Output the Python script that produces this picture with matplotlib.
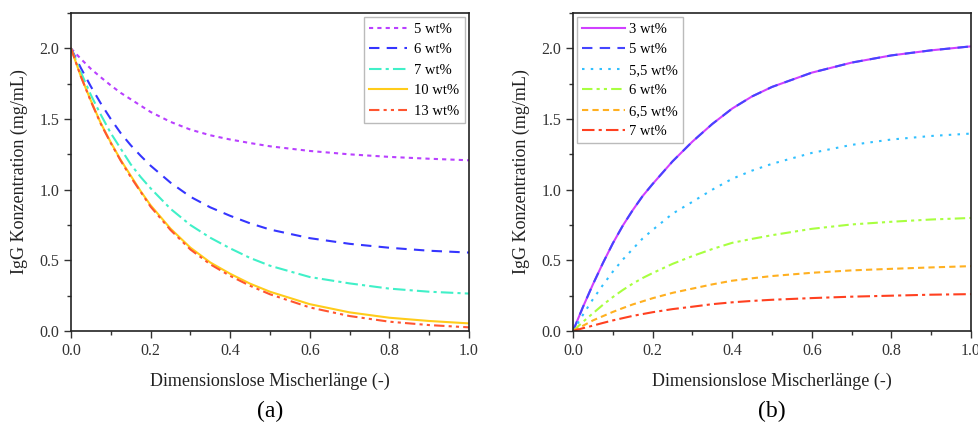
import matplotlib
matplotlib.use("Agg")
import matplotlib.pyplot as plt
from matplotlib.ticker import MultipleLocator

plt.rcParams['font.family'] = ['Liberation Serif', 'DejaVu Serif']

# dimensionless mixer length
x = [0, 0.025, 0.05, 0.075, 0.1, 0.125, 0.15, 0.175, 0.2, 0.25, 0.3, 0.35,
     0.4, 0.45, 0.5, 0.6, 0.7, 0.8, 0.9, 1.0]

# panel (a): IgG concentration, decreasing
labels_a = ['5 wt%', '6 wt%', '7 wt%', '10 wt%', '13 wt%']
a_5 = [2.0, 1.925, 1.855, 1.795, 1.738, 1.685, 1.64, 1.595, 1.55, 1.48, 1.425, 1.385,
       1.355, 1.33, 1.307, 1.274, 1.25, 1.232, 1.219, 1.208]
a_6 = [2.0, 1.86, 1.73, 1.61, 1.50, 1.40, 1.315, 1.24, 1.17, 1.05, 0.95, 0.875,
       0.815, 0.762, 0.718, 0.657, 0.617, 0.589, 0.568, 0.555]
a_7 = [2.0, 1.83, 1.67, 1.53, 1.40, 1.29, 1.18, 1.09, 1.01, 0.865, 0.75, 0.66,
       0.585, 0.517, 0.462, 0.382, 0.337, 0.30, 0.278, 0.265]
a_10 = [2.0, 1.80, 1.63, 1.47, 1.335, 1.21, 1.10, 0.99, 0.89, 0.725, 0.59, 0.485,
        0.405, 0.335, 0.278, 0.19, 0.132, 0.094, 0.071, 0.054]
a_13 = [2.0, 1.80, 1.625, 1.465, 1.33, 1.205, 1.09, 0.985, 0.88, 0.715, 0.577, 0.472,
        0.39, 0.32, 0.26, 0.167, 0.106, 0.066, 0.042, 0.026]

# panel (b): IgG concentration, increasing
labels_b = ['3 wt%', '5 wt%', '5,5 wt%', '6 wt%', '6,5 wt%', '7 wt%']
b_3 = [0, 0.17, 0.33, 0.48, 0.62, 0.745, 0.855, 0.955, 1.04, 1.20, 1.34, 1.465,
       1.574, 1.66, 1.727, 1.828, 1.899, 1.95, 1.986, 2.014]
b_5 = [0, 0.17, 0.33, 0.48, 0.62, 0.745, 0.855, 0.955, 1.04, 1.20, 1.34, 1.465,
       1.574, 1.66, 1.727, 1.828, 1.899, 1.95, 1.986, 2.014]
b_55 = [0, 0.115, 0.225, 0.325, 0.42, 0.505, 0.58, 0.655, 0.715, 0.83, 0.914, 1.0,
        1.077, 1.135, 1.183, 1.26, 1.317, 1.355, 1.38, 1.397]
b_6 = [0, 0.065, 0.125, 0.185, 0.24, 0.29, 0.335, 0.375, 0.41, 0.475, 0.53, 0.58,
       0.624, 0.652, 0.678, 0.723, 0.754, 0.773, 0.789, 0.80]
b_65 = [0, 0.037, 0.075, 0.105, 0.135, 0.162, 0.188, 0.21, 0.232, 0.27, 0.30, 0.33,
        0.356, 0.373, 0.389, 0.412, 0.429, 0.44, 0.45, 0.459]
b_7 = [0, 0.02, 0.038, 0.057, 0.075, 0.091, 0.107, 0.12, 0.133, 0.155, 0.172, 0.19,
       0.203, 0.213, 0.221, 0.233, 0.243, 0.25, 0.257, 0.261]

fig = plt.figure(figsize=(9.79, 4.28), dpi=100)
ax_a = fig.add_axes([0.0725, 0.2266, 0.4065, 0.743])
ax_b = fig.add_axes([0.5853, 0.2266, 0.4065, 0.743])

# styles for (a)
styles_a = [
    dict(color='#b940ff', linestyle=(0, (2, 2))),
    dict(color='#3535ff', linestyle=(0, (5, 3.5))),
    dict(color='#40f0c8', linestyle=(0, (6, 2, 1.5, 2))),
    dict(color='#ffcc1a', linestyle='-'),
    dict(color='#ff5530', linestyle=(0, (5, 2, 1.5, 2, 1.5, 2))),
]
for y, lab, st in zip([a_5, a_6, a_7, a_10, a_13], labels_a, styles_a):
    ax_a.plot(x, y, label=lab, linewidth=1.5, **st)

# styles for (b)
styles_b = [
    dict(color='#d040ff', linestyle='-'),
    dict(color='#4545ff', linestyle=(0, (5, 3.5))),
    dict(color='#30c0ff', linestyle=(0, (1.2, 3))),
    dict(color='#a8ff40', linestyle=(0, (5, 2, 1.5, 2, 1.5, 2))),
    dict(color='#ffb020', linestyle=(0, (3, 2))),
    dict(color='#ff4020', linestyle=(0, (6, 2, 1.5, 2))),
]
for y, lab, st in zip([b_3, b_5, b_55, b_6, b_65, b_7], labels_b, styles_b):
    ax_b.plot(x, y, label=lab, linewidth=1.5, **st)

for ax, tag in [(ax_a, '(a)'), (ax_b, '(b)')]:
    ax.set_xlim(0, 1.0)
    ax.set_ylim(0, 2.25)
    ax.xaxis.set_major_locator(MultipleLocator(0.2))
    ax.xaxis.set_minor_locator(MultipleLocator(0.1))
    ax.yaxis.set_major_locator(MultipleLocator(0.5))
    ax.yaxis.set_minor_locator(MultipleLocator(0.25))
    ax.tick_params(which='both', direction='out', top=False, right=False,
                   labelsize=11.5, colors='#333333', labelcolor='#333333')
    ax.tick_params(which='major', length=5, width=1)
    ax.tick_params(which='minor', length=3, width=1)
    for sp in ax.spines.values():
        sp.set_linewidth(1.2)
        sp.set_color('#222222')
    ax.set_xlabel('Dimensionslose Mischerlänge (-)', fontsize=13, labelpad=10, color='#222222')
    ax.set_ylabel('IgG Konzentration (mg/mL)', fontsize=13, labelpad=8, color='#222222')
    ax.text(0.5, -0.252, tag, transform=ax.transAxes, ha='center', va='center', fontsize=17)

leg_a = ax_a.legend(loc='upper right', fontsize=10.5, frameon=True, fancybox=False,
                    handlelength=2.6, borderaxespad=0.3, labelspacing=0.5,
                    handletextpad=0.5, borderpad=0.35)
leg_b = ax_b.legend(loc='upper left', fontsize=10.5, frameon=True, fancybox=False,
                    handlelength=2.9, borderaxespad=0.3, labelspacing=0.5,
                    handletextpad=0.3, borderpad=0.35)
for leg in (leg_a, leg_b):
    leg.get_frame().set_edgecolor('#aaaaaa')
    leg.get_frame().set_linewidth(1.0)

fig.savefig('out.png', dpi=100)
